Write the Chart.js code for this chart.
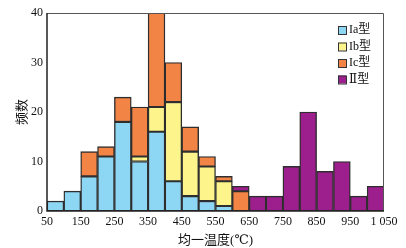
<!DOCTYPE html>
<html>
<head>
<meta charset="utf-8">
<script src="https://cdn.jsdelivr.net/npm/chart.js@4/dist/chart.umd.min.js"></script>
<style>
  html, body { margin: 0; padding: 0; background: #fff; }
  #wrap { width: 406px; height: 248px; }
</style>
</head>
<body>
<div id="wrap"><canvas id="histChart"></canvas></div>
<script>
// bin centres (bin width 50, from 50 to 1050)
const binCenters = [75, 125, 175, 225, 275, 325, 375, 425, 475, 525, 575, 625, 675, 725, 775, 825, 875, 925, 975, 1025];
const typeIa = [2, 4, 7, 11, 18, 10, 16, 6, 3, 2, 1, 0, 0, 0, 0, 0, 0, 0, 0, 0];
const typeIb = [0, 0, 0, 0, 0, 1, 5, 16, 9, 7, 5, 0, 0, 0, 0, 0, 0, 0, 0, 0];
const typeIc = [0, 0, 5, 2, 5, 10, 19, 8, 5, 2, 1, 4, 0, 0, 0, 0, 0, 0, 0, 0];
const typeII = [0, 0, 0, 0, 0, 0, 0, 0, 0, 0, 0, 1, 3, 3, 9, 20, 8, 10, 3, 5];
const seriesNames = ['Ia型', 'Ib型', 'Ic型', 'Ⅱ型'];
const xTicks = [50, 150, 250, 350, 450, 550, 650, 750, 850, 950, 1050];
const yTicks = [0, 10, 20, 30, 40];

const colors = ['#8dd6f4', '#fdf58c', '#f28446', '#9c1f8d'];
const serif = "'Liberation Serif', 'DejaVu Serif', 'Noto Sans CJK SC', serif";

function toPoints(values) {
    return values.map(function (v, i) {
        return { x: binCenters[i], y: v === 0 ? null : v };
    });
}

const frameAndLegend = {
    id: 'frameAndLegend',
    afterDraw: function (chart) {
        const ctx = chart.ctx;
        const a = chart.chartArea;
        ctx.save();
        // thin frame top/right
        ctx.strokeStyle = '#555';
        ctx.lineWidth = 1;
        ctx.beginPath();
        ctx.moveTo(a.left, a.top + 0.5);
        ctx.lineTo(a.right - 0.5, a.top + 0.5);
        ctx.lineTo(a.right - 0.5, a.bottom);
        ctx.stroke();
        // axes left/bottom
        ctx.strokeStyle = '#222';
        ctx.lineWidth = 1.5;
        ctx.beginPath();
        ctx.moveTo(a.left, a.top);
        ctx.lineTo(a.left, a.bottom);
        ctx.lineTo(a.right, a.bottom);
        ctx.stroke();

        // legend inside plot, top right
        ctx.font = '12px ' + serif;
        ctx.textBaseline = 'middle';
        ctx.textAlign = 'left';
        const boxX = a.right - 46;
        let y = a.top + 17;
        chart.data.datasets.forEach(function (ds) {
            ctx.fillStyle = ds.backgroundColor;
            ctx.fillRect(boxX, y - 4, 8, 8);
            ctx.strokeStyle = '#333';
            ctx.lineWidth = 1;
            ctx.strokeRect(boxX + 0.5, y - 3.5, 8, 8);
            ctx.fillStyle = '#111';
            ctx.fillText(ds.label, boxX + 11, y);
            y += 16.5;
        });
        ctx.restore();
    }
};

const canvas = document.getElementById('histChart');
const ctx = canvas.getContext('2d');

canvas.chart = new Chart(ctx, {
    type: 'bar',
    data: {
        datasets: [typeIa, typeIb, typeIc, typeII].map(function (vals, i) {
            return {
                label: seriesNames[i],
                data: toPoints(vals),
                backgroundColor: colors[i],
                borderColor: '#2e2e2e',
                borderWidth: 1.4,
                borderSkipped: false,
                barPercentage: 1,
                categoryPercentage: 1
            };
        })
    },
    options: {
        responsive: true,
        maintainAspectRatio: false,
        animation: false,
        layout: { padding: { top: 13, right: 22, left: 0, bottom: 0 } },
        scales: {
            x: {
                type: 'linear',
                stacked: true,
                offset: false,
                min: 50,
                max: 1050,
                afterBuildTicks: function (scale) {
                    scale.ticks = xTicks.map(function (v) { return { value: v }; });
                },
                afterFit: function (scale) { scale.height = 37; },
                grid: { display: false, drawTicks: false, offset: false },
                border: { display: false },
                ticks: {
                    padding: 4,
                    color: '#111',
                    font: { family: serif, size: 12 },
                    maxRotation: 0,
                    autoSkip: false,
                    callback: function (v) {
                        return v >= 1000 ? '1 ' + String(v).slice(1) : String(v);
                    }
                },
                title: {
                    display: true,
                    text: '均一温度(℃)',
                    color: '#111',
                    font: { family: serif, size: 13 },
                    padding: { top: 0, bottom: 0 }
                }
            },
            y: {
                stacked: true,
                min: 0,
                max: 40,
                afterBuildTicks: function (scale) {
                    scale.ticks = yTicks.map(function (v) { return { value: v }; });
                },
                afterFit: function (scale) { scale.width = 47; },
                grid: { display: false, drawTicks: false },
                border: { display: false },
                ticks: {
                    padding: 4,
                    color: '#111',
                    font: { family: serif, size: 12 }
                },
                title: {
                    display: true,
                    text: '频数',
                    color: '#111',
                    font: { family: serif, size: 13 },
                    padding: { top: 15, bottom: 0 }
                }
            }
        },
        plugins: {
            legend: { display: false },
            tooltip: { enabled: false }
        }
    },
    plugins: [frameAndLegend]
});
</script>
</body>
</html>
